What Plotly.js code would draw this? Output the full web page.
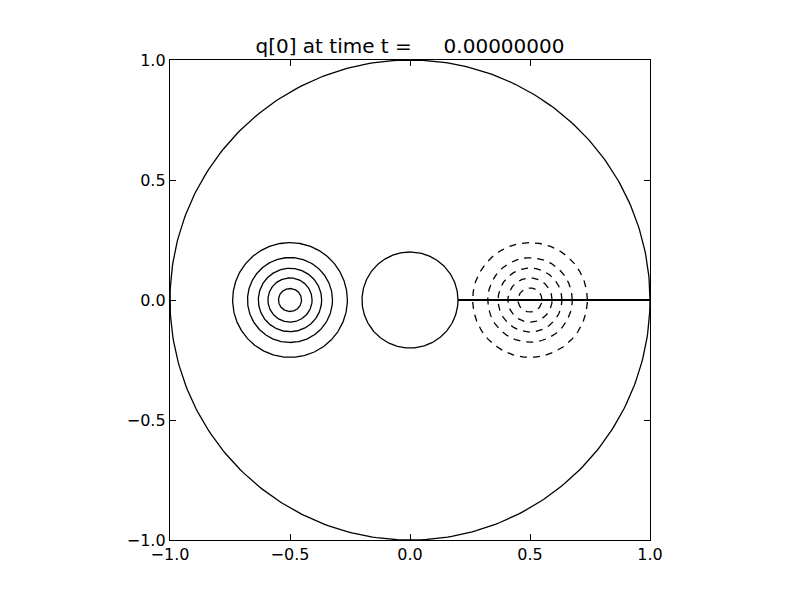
<!DOCTYPE html>
<html>
<head>
<meta charset="utf-8">
<script src="https://cdn.plot.ly/plotly-3.0.1.min.js"></script>
<style>html,body{margin:0;padding:0;background:#fff;}</style>
</head>
<body>
<div id="chart" style="width:800px;height:600px;"></div>
<script>
// ---- data ----
var titleText = "q[0] at time t =\u00a0\u00a0\u00a0\u00a0 0.00000000";
var tickVals = [-1.0, -0.5, 0.0, 0.5, 1.0];
var tickText = ["\u22121.0", "\u22120.5", "0.0", "0.5", "1.0"];

// outer domain boundary and inner obstacle
var boundaryCenter = [0.0, 0.0];
var boundaryRadius = 1.0;
var obstacleCenter = [0.0, 0.0];
var obstacleRadius = 0.2;

// positive contours (solid) around (-0.5, 0)
var posCenter = [-0.5, 0.0];
var posRadii = [0.239, 0.177, 0.132, 0.092, 0.048];

// negative contours (dashed) around (0.5, 0)
var negCenter = [0.5, 0.0];
var negRadii = [0.239, 0.176, 0.133, 0.092, 0.05];

// cut line
var cutX = [0.2, 1.0];
var cutY = [0.0, 0.0];

// ---- helpers ----
function circleTrace(c, r, dash, width) {
  var xs = [], ys = [], n = 361;
  for (var i = 0; i < n; i++) {
    var a = 2 * Math.PI * i / (n - 1);
    xs.push(c[0] + r * Math.cos(a));
    ys.push(c[1] + r * Math.sin(a));
  }
  return {x: xs, y: ys, mode: 'lines', type: 'scatter', hoverinfo: 'skip',
          line: {color: '#000', width: width || 1.3, dash: dash || 'solid'}, showlegend: false};
}

var traces = [];
traces.push(circleTrace(boundaryCenter, boundaryRadius));
traces.push(circleTrace(obstacleCenter, obstacleRadius));
posRadii.forEach(function (r) { traces.push(circleTrace(posCenter, r)); });
negRadii.forEach(function (r) { traces.push(circleTrace(negCenter, r, '7px,6px')); });
traces.push({x: cutX, y: cutY, mode: 'lines', type: 'scatter', hoverinfo: 'skip',
             line: {color: '#000', width: 1.8}, showlegend: false});

var axisCommon = {
  range: [-1, 1], tickvals: tickVals, ticktext: tickText,
  ticks: 'inside', ticklen: 6, tickwidth: 1, tickcolor: '#000',
  showline: true, linecolor: '#000', linewidth: 1.2, mirror: 'allticks',
  showgrid: false, zeroline: false,
  tickfont: {family: 'DejaVu Sans', size: 16, color: '#000'}
};

var layout = {
  width: 800, height: 600,
  margin: {l: 170, r: 150, t: 60, b: 60},
  paper_bgcolor: '#fff', plot_bgcolor: '#fff',
  title: {text: titleText, x: 0.5125, xanchor: 'center', y: 0.924, yanchor: 'middle',
          font: {family: 'DejaVu Sans', size: 20, color: '#000'}},
  xaxis: Object.assign({}, axisCommon),
  yaxis: Object.assign({}, axisCommon),
  showlegend: false
};

Plotly.newPlot('chart', traces, layout, {staticPlot: true});
</script>
</body>
</html>
